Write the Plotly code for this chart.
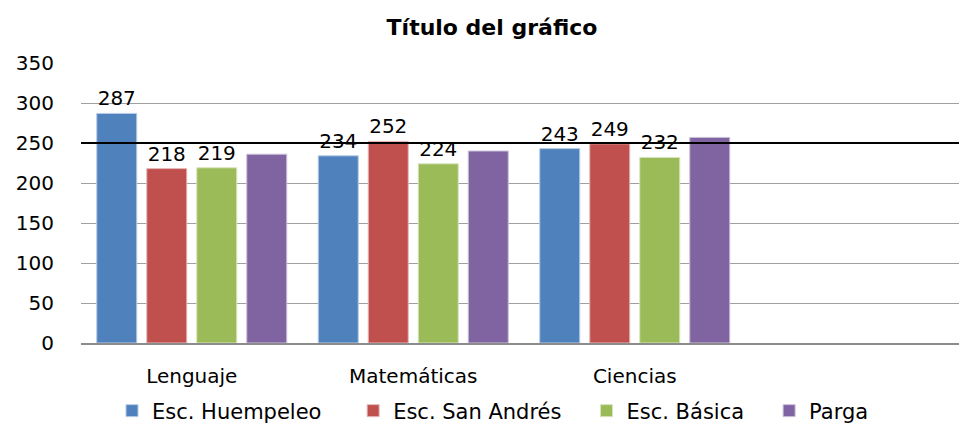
import plotly.graph_objects as go

categories = ["Lenguaje", "Matemáticas", "Ciencias"]
series_names = ["Esc. Huempeleo", "Esc. San Andrés", "Esc. Básica", "Parga"]
huempeleo = [287, 234, 243]
san_andres = [218, 252, 249]
basica = [219, 224, 232]
parga = [236, 240, 257]
reference_value = 250
y_ticks = [0, 50, 100, 150, 200, 250, 300, 350]

colors = ["#4F81BD", "#C0504D", "#9BBB59", "#8064A2"]
edge_colors = ["#B9CDE5", "#E6B9B8", "#D7E4BD", "#CCC1DA"]
show_labels = [True, True, True, False]
legend_pad = ["\u00a0\u00a0\u00a0\u00a0", "\u00a0\u00a0\u00a0", "\u00a0\u00a0\u00a0", ""]

FONT = "DejaVu Sans"

fig = go.Figure()
for name, vals, col, edge, lab, pad in zip(series_names, [huempeleo, san_andres, basica, parga],
                                           colors, edge_colors, show_labels, legend_pad):
    fig.add_trace(go.Bar(
        name=name + pad, x=categories, y=vals,
        marker=dict(color=col, line=dict(color=edge, width=1)),
        text=[str(v) for v in vals] if lab else None,
        textposition="outside" if lab else "none",
        textfont=dict(family=FONT, size=20, color="black"),
        cliponaxis=False,
    ))

fig.add_shape(type="line", xref="paper", x0=0, x1=1, yref="y", y0=reference_value, y1=reference_value,
              line=dict(color="black", width=2), layer="above")

fig.update_layout(
    width=959, height=424,
    margin=dict(l=81, r=0, t=63, b=81, autoexpand=False),
    paper_bgcolor="white", plot_bgcolor="white",
    barmode="group", bargap=0.097, bargroupgap=0.2,
    title=dict(text="<b>Título del gráfico</b>", x=492/959, xanchor="center", y=1 - 27/424, yanchor="middle",
               font=dict(family=FONT, size=22, color="black")),
    font=dict(family=FONT, size=20, color="black"),
    showlegend=True,
    legend=dict(orientation="h", x=(493 - 81) / 878, xanchor="center",
                y=-(411 - 343) / 280, yanchor="middle", font=dict(family=FONT, size=21, color="black")),
    xaxis=dict(type="category", range=[-0.5, -0.5 + 878 / 221.5], showgrid=False, automargin=False,
               showline=True, linecolor="#8C8C8C", linewidth=2, ticks="", ticklabelstandoff=14,
               tickfont=dict(family=FONT, size=20, color="black")),
    yaxis=dict(range=[0, 350], tickvals=y_ticks, showgrid=True, gridcolor="#A0A0A0", gridwidth=1,
               zeroline=False, showline=False, ticks="", ticklabelstandoff=26, automargin=False,
               tickfont=dict(family=FONT, size=20, color="black")),
)

fig.write_html("out.html", config={"displayModeBar": False},
               post_script="document.body.style.margin='0px';document.body.style.overflow='hidden';")
